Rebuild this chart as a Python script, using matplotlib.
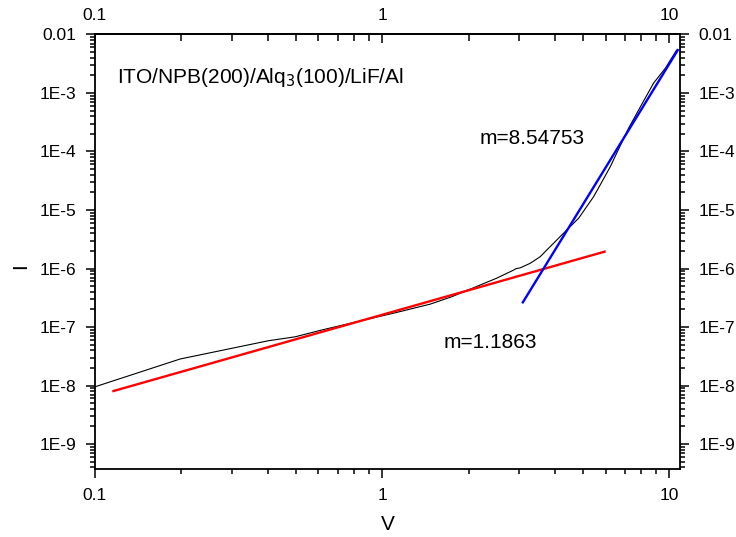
import matplotlib
matplotlib.use("Agg")
from matplotlib import pyplot as plt
from matplotlib.ticker import FixedLocator, LogLocator, NullFormatter
import numpy as np

plt.rcParams['font.family'] = ['Liberation Sans', 'DejaVu Sans']

# measured I-V curve
v_data = [0.1, 0.198, 0.402, 0.498, 0.617, 0.8, 1.11, 1.47, 1.75, 2.19, 2.5,
          2.87, 2.92, 3.03, 3.28, 3.55, 4.28, 4.83, 5.45, 5.83, 6.23, 7.21,
          7.93, 8.81, 9.68, 10.6]
i_data = [9.5e-9, 2.84e-8, 5.83e-8, 6.8e-8, 8.9e-8, 1.2e-7, 1.75e-7, 2.46e-7,
          3.3e-7, 5.2e-7, 6.8e-7, 9.4e-7, 9.9e-7, 1.03e-6, 1.23e-6, 1.59e-6,
          4.0e-6, 7.2e-6, 1.69e-5, 3.05e-5, 5.5e-5, 2.49e-4, 5.8e-4, 1.47e-3,
          2.64e-3, 5.4e-3]

# fitted lines (end points)
red_v = [0.116, 5.95]
red_i = [8.05e-9, 1.94e-6]
blue_v = [3.09, 10.7]
blue_i = [2.64e-7, 5.4e-3]

x_ticks = [0.1, 1, 10]
x_labels = ['0.1', '1', '10']
y_ticks = [1e-2, 1e-3, 1e-4, 1e-5, 1e-6, 1e-7, 1e-8, 1e-9]
y_labels = ['0.01', '1E-3', '1E-4', '1E-5', '1E-6', '1E-7', '1E-8', '1E-9']

fig = plt.figure(figsize=(7.36, 5.37), dpi=100)
ax = fig.add_axes([0.129, 0.1266, 0.795, 0.8092])

ax.plot(v_data, i_data, color='k', lw=0.8)
ax.plot(red_v, red_i, color='#ff0000', lw=1.7)
ax.plot(blue_v, blue_i, color='#0000ff', lw=1.7)

ax.set_xscale('log')
ax.set_yscale('log')
ax.set_xlim(0.1, 10.9)
ax.set_ylim(3.74e-10, 1e-2)

ax.xaxis.set_major_locator(FixedLocator(x_ticks))
ax.set_xticklabels(x_labels)
ax.xaxis.set_minor_locator(LogLocator(base=10, subs=np.arange(2, 10)))
ax.xaxis.set_minor_formatter(NullFormatter())
ax.yaxis.set_major_locator(FixedLocator(y_ticks))
ax.set_yticklabels(y_labels)
ax.yaxis.set_minor_locator(LogLocator(base=10, subs=np.arange(2, 10), numticks=20))
ax.yaxis.set_minor_formatter(NullFormatter())

ax.tick_params(which='both', direction='out', top=False, right=True,
               labelright=True, labelsize=12.5, width=1.1, pad=7)
ax.tick_params(which='major', length=6.5)
ax.tick_params(which='minor', length=3.6)

top = ax.secondary_xaxis('top')
top.xaxis.set_major_locator(FixedLocator(x_ticks))
top.set_xticklabels(x_labels)
top.xaxis.set_minor_locator(LogLocator(base=10, subs=np.arange(2, 10)))
top.xaxis.set_minor_formatter(NullFormatter())
top.tick_params(which='both', direction='in', labelsize=12.5, width=1.1, pad=8.5)
top.tick_params(which='major', length=6.5)
top.tick_params(which='minor', length=5)
top.spines['top'].set_linewidth(1.3)

for s in ax.spines.values():
    s.set_linewidth(1.3)

ax.text(0.119, 1.47e-3, 'ITO/NPB(200)/Alq$_3$(100)/LiF/Al', fontsize=15,
        va='baseline', ha='left')
ax.text(2.19, 1.34e-4, 'm=8.54753', fontsize=15, va='baseline', ha='left')
ax.text(1.635, 4.33e-8, 'm=1.1863', fontsize=15, va='baseline', ha='left')

ax.set_xlabel('V', fontsize=15, labelpad=9)
ax.set_ylabel('I', fontsize=15)
ax.yaxis.set_label_coords(-0.111, 0.467)

fig.savefig('out.png', dpi=100)
